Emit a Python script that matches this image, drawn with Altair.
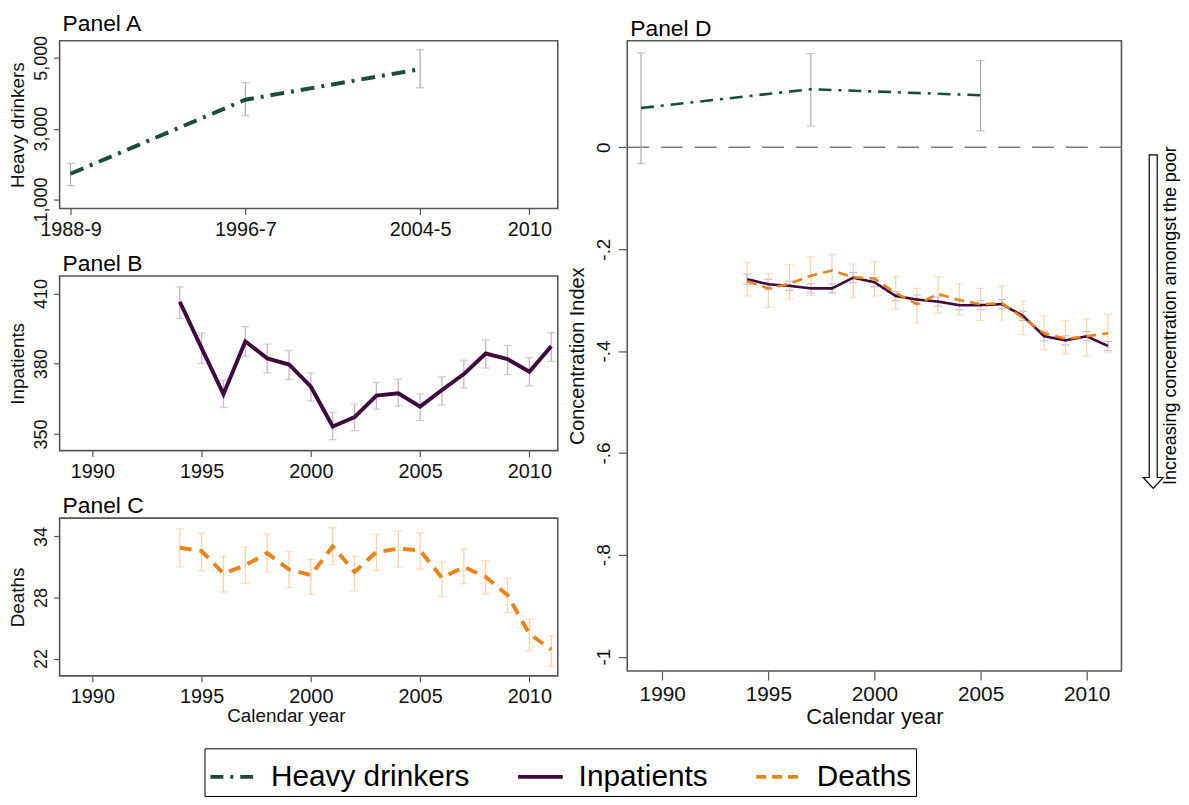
import altair as alt
import pandas as pd

FONT = "Liberation Sans"

# ---------------- data ----------------
series_names = ["Heavy drinkers", "Inpatients", "Deaths"]
series_colors = ["#1c4a3c", "#3d0c3d", "#e8841a"]

hd_years = [1989, 1997, 2005]
hd_count = [1727, 3818, 4682]
hd_count_lo = [1391, 3364, 4155]
hd_count_hi = [2018, 4300, 5227]
hd_ci = [0.077, 0.114, 0.102]
hd_ci_lo = [-0.032, 0.042, 0.032]
hd_ci_hi = [0.185, 0.184, 0.170]

years = [1994, 1995, 1996, 1997, 1998, 1999, 2000, 2001, 2002,
         2003, 2004, 2005, 2006, 2007, 2008, 2009, 2010, 2011]

inp_count = [406.5, 386.7, 367.0, 389.6, 382.3, 379.7, 370.2, 353.2, 357.2,
             366.4, 367.4, 361.7, 368.8, 375.6, 384.4, 382.0, 376.6, 387.5]
inp_count_hi = [412.8, 393.2, 373.0, 395.9, 388.4, 385.7, 376.1, 359.3, 362.8,
                372.0, 373.4, 367.1, 374.4, 381.5, 390.2, 387.8, 382.6, 393.3]
inp_count_lo = [399.4, 380.1, 361.3, 383.2, 376.1, 373.3, 364.1, 347.6, 351.4,
                360.6, 362.0, 355.8, 362.4, 369.7, 378.2, 375.4, 370.6, 381.0]

death_count = [32.89, 32.57, 30.36, 31.17, 32.37, 30.75, 30.20, 33.02, 30.52,
               32.47, 32.80, 32.63, 29.93, 31.01, 30.03, 28.24, 24.44, 22.88]
death_count_hi = [34.75, 34.33, 32.05, 32.96, 34.23, 32.50, 31.76, 34.85, 32.05,
                  34.20, 34.52, 34.36, 31.50, 32.76, 31.63, 29.87, 25.87, 24.24]
death_count_lo = [31.01, 30.62, 28.54, 29.38, 30.52, 28.99, 28.31, 31.27, 28.63,
                  30.65, 31.01, 30.81, 28.08, 29.35, 28.34, 26.55, 22.78, 21.25]

inp_ci = [-0.259, -0.269, -0.272, -0.277, -0.277, -0.256, -0.265, -0.292, -0.299,
          -0.303, -0.310, -0.310, -0.308, -0.331, -0.371, -0.379, -0.371, -0.390]
inp_ci_hi = [-0.249, -0.259, -0.263, -0.268, -0.268, -0.246, -0.256, -0.283, -0.290,
             -0.294, -0.301, -0.301, -0.299, -0.322, -0.362, -0.370, -0.362, -0.381]
inp_ci_lo = [-0.269, -0.279, -0.281, -0.286, -0.286, -0.266, -0.274, -0.301, -0.308,
             -0.312, -0.319, -0.319, -0.317, -0.340, -0.380, -0.388, -0.380, -0.399]

death_ci = [-0.263, -0.277, -0.268, -0.252, -0.242, -0.255, -0.258, -0.286, -0.308,
            -0.288, -0.300, -0.308, -0.306, -0.335, -0.365, -0.376, -0.371, -0.365]
death_ci_hi = [-0.226, -0.248, -0.230, -0.215, -0.210, -0.229, -0.224, -0.254, -0.277,
               -0.254, -0.268, -0.277, -0.272, -0.302, -0.331, -0.340, -0.337, -0.328]
death_ci_lo = [-0.292, -0.314, -0.298, -0.291, -0.277, -0.295, -0.292, -0.318, -0.345,
               -0.326, -0.329, -0.340, -0.339, -0.368, -0.397, -0.406, -0.410, -0.402]

a_x_ticks = [1989, 1997, 2005, 2010]
a_x_labels = ["1988-9", "1996-7", "2004-5", "2010"]
year_ticks = [1990, 1995, 2000, 2005, 2010]
a_y_ticks = [1000, 3000, 5000]
a_y_labels = ["1,000", "3,000", "5,000"]
b_y_ticks = [350, 380, 410]
c_y_ticks = [22, 28, 34]
d_y_ticks = [0, -0.2, -0.4, -0.6, -0.8, -1]
d_y_labels = ["0", "-.2", "-.4", "-.6", "-.8", "-1"]

arrow_text = "Increasing concentration amongst the poor"

# ---------------- styles ----------------
HD_EB = "#a7b3ae"
HD_EB_D = "#a9a9a9"
INP_EB = "#cdb0cd"
INP_EB_D = "#a99ec9"
DEATH_EB = "#f8d2aa"
DASH_HD = [14, 7, 3, 7]
DASH_DEATH = [12, 8]


def label_expr(vals, labels):
    expr = "''"
    for v, l in reversed(list(zip(vals, labels))):
        expr = f"abs(datum.value - ({v})) < 0.000001 ? '{l}' : {expr}"
    return expr


def frame_df(xs, v, lo, hi):
    return pd.DataFrame({"year": xs, "v": v, "lo": lo, "hi": hi})


def errbars(df, X, Y, color, cap=8, sw=1.3):
    base = alt.Chart(df)
    rule = base.mark_rule(color=color, strokeWidth=sw).encode(x=X("year:Q"), y=Y("lo:Q"), y2="hi:Q")
    c1 = base.mark_tick(color=color, orient="horizontal", size=cap, thickness=sw).encode(x=X("year:Q"), y=Y("lo:Q"))
    c2 = base.mark_tick(color=color, orient="horizontal", size=cap, thickness=sw).encode(x=X("year:Q"), y=Y("hi:Q"))
    return [rule, c1, c2]


def enc_maker(kind, domain, axis):
    scale = alt.Scale(domain=domain, nice=False, zero=False)
    if kind == "x":
        return lambda f: alt.X(f, scale=scale, axis=axis)
    return lambda f: alt.Y(f, scale=scale, axis=axis)


def panel_title(text):
    return alt.TitleParams(text=text, anchor="start", frame="group", dx=3, fontSize=23,
                           font=FONT, fontWeight="normal", color="black", offset=0)


def left_x_axis(**kw):
    return alt.Axis(values=kw.pop("values", year_ticks), labelFontSize=20, tickSize=6,
                    labelPadding=5, titleFontSize=19, titlePadding=0, **kw)


def left_y_axis(**kw):
    return alt.Axis(labelFontSize=18, titleFontSize=19, tickSize=6, labelPadding=3,
                    titlePadding=5, **kw)


LEFT_DOMAIN = [1988.5, 2011.3]
W_LEFT = 502
TOP = 37

# ---------------- Panel A ----------------
XA = enc_maker("x", LEFT_DOMAIN, left_x_axis(values=a_x_ticks, title=None,
                                             labelExpr=label_expr(a_x_ticks, a_x_labels)))
YA = enc_maker("y", [745, 5482], left_y_axis(values=a_y_ticks, title="Heavy drinkers",
                                             labelExpr=label_expr(a_y_ticks, a_y_labels)))
dfA = frame_df(hd_years, hd_count, hd_count_lo, hd_count_hi)
lineA = alt.Chart(dfA).mark_line(color=series_colors[0], strokeWidth=4, strokeDash=DASH_HD).encode(
    x=XA("year:Q"), y=YA("v:Q"))
panelA = alt.layer(*errbars(dfA, XA, YA, HD_EB), lineA).properties(
    width=W_LEFT, height=169, title=panel_title("Panel A"))

# ---------------- Panel B ----------------
XB = enc_maker("x", LEFT_DOMAIN, left_x_axis(title=None, format="d"))
YB = enc_maker("y", [342.9, 417.5], left_y_axis(values=b_y_ticks, title="Inpatients", format="d"))
dfB = frame_df(years, inp_count, inp_count_lo, inp_count_hi)
lineB = alt.Chart(dfB).mark_line(color=series_colors[1], strokeWidth=4).encode(x=XB("year:Q"), y=YB("v:Q"))
panelB = alt.layer(*errbars(dfB, XB, YB, INP_EB), lineB).properties(
    width=W_LEFT, height=176, title=panel_title("Panel B"))

# ---------------- Panel C ----------------
XC = enc_maker("x", LEFT_DOMAIN, left_x_axis(title="Calendar year", format="d", titleX=228))
YC = enc_maker("y", [20.3, 35.8], left_y_axis(values=c_y_ticks, title="Deaths", format="d"))
dfC = frame_df(years, death_count, death_count_lo, death_count_hi)
lineC = alt.Chart(dfC).mark_line(color=series_colors[2], strokeWidth=4, strokeDash=DASH_DEATH).encode(
    x=XC("year:Q"), y=YC("v:Q"))
panelC = alt.layer(*errbars(dfC, XC, YC, DEATH_EB), lineC).properties(
    width=W_LEFT, height=159, title=panel_title("Panel C"))

left_col = alt.vconcat(panelA, panelB, panelC, spacing=68, bounds="flush")

# ---------------- Panel D ----------------
D_Y_DOMAIN = [-1.028, 0.209]
XD = enc_maker("x", [1988.35, 2011.64], alt.Axis(values=year_ticks, title="Calendar year", format="d",
                                                  labelFontSize=21, titleFontSize=22, tickSize=9,
                                                  labelPadding=4, titlePadding=2))
YD = enc_maker("y", D_Y_DOMAIN, alt.Axis(values=d_y_ticks, title="Concentration Index",
                                         labelExpr=label_expr(d_y_ticks, d_y_labels),
                                         labelFontSize=19, titleFontSize=20, tickSize=9,
                                         labelPadding=5, titlePadding=7))
dfD_hd = frame_df(hd_years, hd_ci, hd_ci_lo, hd_ci_hi)
dfD_inp = frame_df(years, inp_ci, inp_ci_lo, inp_ci_hi)
dfD_death = frame_df(years, death_ci, death_ci_lo, death_ci_hi)
dfD_lines = pd.concat([
    dfD_hd.assign(series=series_names[0]),
    dfD_inp.assign(series=series_names[1]),
    dfD_death.assign(series=series_names[2]),
])

one = alt.Data(values=[{}])
zero_rule = alt.Chart(one).mark_rule(color="#7a7a7a", strokeWidth=1.3, strokeDash=[22, 12]).encode(
    y=alt.datum(0, scale=alt.Scale(domain=D_Y_DOMAIN, nice=False, zero=False)))

# legend is hoisted to the top-level group (origin = Panel A's plot area)
legend = alt.Legend(orient="none", legendX=205 - 59, legendY=752 - TOP - 2, direction="horizontal", title=None,
                    labelFont=FONT, labelFontSize=30, labelColor="black", labelLimit=500,
                    symbolType="stroke", symbolSize=2025, symbolStrokeWidth=4,
                    strokeColor="black", fillColor="white", padding=4,
                    columnPadding=40, labelOffset=14, cornerRadius=0)

linesD = alt.Chart(dfD_lines).mark_line(strokeWidth=2.6).encode(
    x=XD("year:Q"), y=YD("v:Q"),
    color=alt.Color("series:N", scale=alt.Scale(domain=series_names, range=series_colors), legend=legend),
    strokeDash=alt.StrokeDash("series:N",
                              scale=alt.Scale(domain=series_names, range=[[13, 7, 3, 7], [1, 0], [10, 6]]),
                              legend=legend),
)

arrow_path = ("M-0.024,-1 L0.024,-1 L0.024,0.935 L0.06,0.935 L0,1 "
              "L-0.06,0.935 L-0.024,0.935 Z")
arrow = alt.Chart(one).mark_point(shape=arrow_path, size=112896, filled=True, fill="white",
                                  stroke="black", strokeWidth=1.2, opacity=1).encode(
    x=alt.value(530), y=alt.value(320 - TOP))
arrow_label = alt.Chart(one).mark_text(text=arrow_text, angle=270, fontSize=18, font=FONT,
                                       color="black", align="center", baseline="middle").encode(
    x=alt.value(548), y=alt.value(314 - TOP))

panelD = alt.layer(
    zero_rule,
    *errbars(dfD_hd, XD, YD, HD_EB_D, cap=8, sw=1.2),
    *errbars(dfD_inp, XD, YD, INP_EB_D, cap=8, sw=1.2),
    *errbars(dfD_death, XD, YD, DEATH_EB, cap=8, sw=1.2),
    linesD, arrow, arrow_label,
).properties(width=498, height=635, title=panel_title("Panel D"))

# nested flush column counts as zero width, so the spacing carries the column width + gap (70)
chart = alt.hconcat(left_col, panelD, spacing=W_LEFT + 70, bounds="flush").properties(
    padding=0
).configure_axis(
    labelFont=FONT, titleFont=FONT, labelColor="#111111",
    titleColor="#111111", tickColor="#555555", tickWidth=1.2, domain=False, grid=False,
    titleFontWeight="normal",
).configure_axisLeft(
    labelAngle=270, labelAlign="center", labelBaseline="bottom",
).configure_view(stroke="#555555", strokeWidth=1.6)

chart.save("out.html", embed_options={"renderer": "svg", "actions": False})
